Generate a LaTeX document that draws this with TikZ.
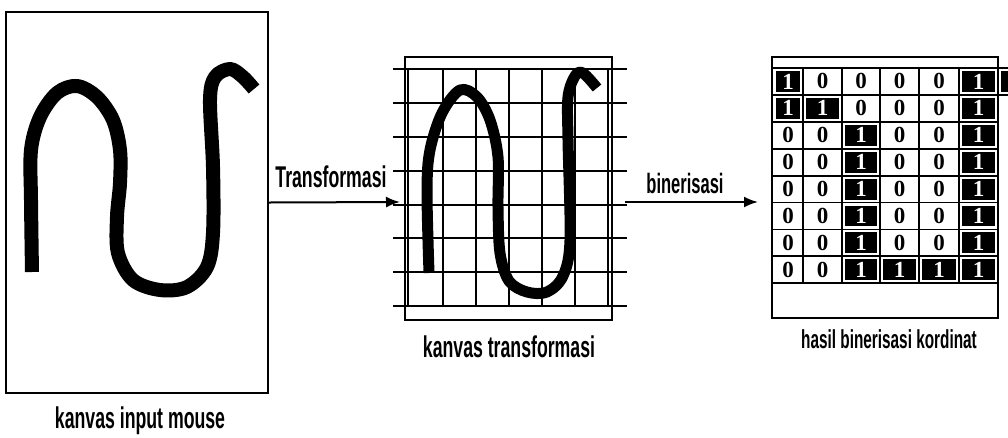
\documentclass[tikz,border=0pt]{standalone}
\usepackage{fontspec}
\setmainfont{Liberation Sans}[FakeStretch=0.59]
\newfontfamily\digitfont{Liberation Serif}
\usetikzlibrary{arrows.meta}
\begin{document}
\begin{tikzpicture}[x=1pt,y=-1pt,>={Latex[length=14pt,width=11pt]},
    lbl/.style={font=\fontsize{30}{30}\selectfont\bfseries,anchor=base,inner sep=0},
    frame/.style={draw,line width=2.4pt,inner sep=0},
    ink/.style={line width=14pt,line join=round},
    gridline/.style={line width=1.8pt},
    digit/.style={font=\digitfont\fontsize{23}{23}\selectfont\bfseries,inner sep=0}]
    \useasboundingbox (0,0) rectangle (1008,437);
    % kanvas input mouse
    \node[frame,minimum width=262pt,minimum height=381pt] (input) at (137,202.5) {};
    \draw[ink] plot[smooth,tension=0.55] coordinates {(32,272) (31,200) (31,150) (40,117) (57,93) (77,86)
        (97,97) (113,120) (120,150) (120,183) (117,217) (118,253) (133,280) (160,290) (187,287)
        (207,267) (213,233) (213,167) (210,100) (215,77) (230,69) (243,77) (254,89)};
    \node[lbl] (inlbl) at (140,428) {kanvas input mouse};
    % kanvas transformasi
    \node[frame,minimum width=207pt,minimum height=263pt] (canvas) at (508.5,188.5) {};
    \draw[ink,line width=11pt] plot[smooth,tension=0.55] coordinates {(429,273) (427,190) (430,150) (442,113)
        (460,90) (477,97) (490,120) (498,157) (498,207) (500,253) (509,281) (527,292) (547,292)
        (563,276) (570,240) (568,140) (568,97) (575,76) (583,73) (597,88)};
    \foreach \x in {408,443,476,509,542,575,608}
        \draw[gridline] (\x,69) -- (\x,306);
    \foreach \y in {69,103,137,171,205,238,272,306}
        \draw[gridline] (393,\y) -- (627,\y);
    \node[lbl] (cvlbl) at (509,357) {kanvas transformasi};
    % hasil binerisasi kordinat
    \node[frame,minimum width=226pt,minimum height=261pt] (table) at (885,187.5) {};
    \foreach \row [count=\r] in {{1,0,0,0,0,1},{1,1,0,0,0,1},{0,0,1,0,0,1},{0,0,1,0,0,1},
        {0,0,1,0,0,1},{0,0,1,0,0,1},{0,0,1,0,0,1},{0,0,1,1,1,1}} {
        \foreach \v [count=\c] in \row {
            \pgfmathsetmacro\xl{{773,803,842,880,919,959,998}[\c-1]}
            \pgfmathsetmacro\xr{{773,803,842,880,919,959,998}[\c]}
            \pgfmathsetmacro\yt{68+26.9*(\r-1)}
            \pgfmathsetmacro\yb{68+26.9*\r}
            \ifnum\v=1
                \fill (\xl+3,\yt+3) rectangle (\xr-3,\yb-3);
                \node[digit,text=white] at ({(\xl+\xr)/2},{(\yt+\yb)/2}) {1};
            \else
                \node[digit] at ({(\xl+\xr)/2},{(\yt+\yb)/2}) {0};
            \fi
        }
    }
    \foreach \x in {803,842,880,919,959}
        \draw[gridline] (\x,68) -- (\x,283);
    \foreach \y in {68,94.9,121.8,148.7,175.6,202.5,229.4,256.3,283.2}
        \draw[gridline] (772,\y) -- (998,\y);
    \draw[gridline] (998,68) -- (1008,68) (998,94.9) -- (1008,94.9);
    \fill (1001,71) rectangle (1008,92);
    \node[lbl,font=\fontsize{26}{26}\selectfont\bfseries] (tblbl) at (889,348) {hasil binerisasi kordinat};
    % panah
    \coordinate (t1) at (input.east);
    \coordinate (t2) at (400,202);
    \coordinate (b1) at (625,202);
    \coordinate (b2) at (758,202);
    \draw[->,line width=2pt] (t1) -- (t2);
    \node[lbl] (trlbl) at (331,187) {Transformasi};
    \draw[->,line width=2pt] (b1) -- (b2);
    \node[lbl,font=\fontsize{28}{28}\selectfont\bfseries] (bnlbl) at (685,193) {binerisasi};
\end{tikzpicture}
\end{document}
